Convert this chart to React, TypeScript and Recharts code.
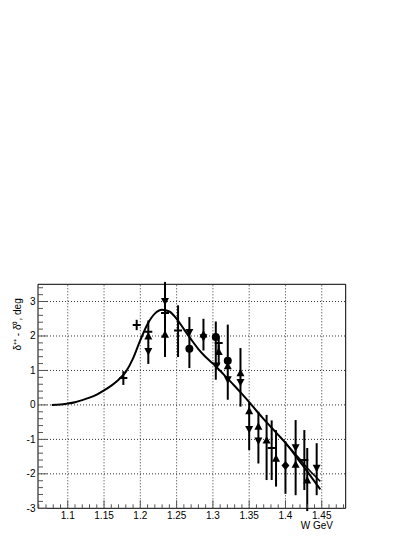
import React from "react";
import {
  ComposedChart,
  Line,
  Scatter,
  XAxis,
  YAxis,
  ErrorBar,
  ReferenceLine,
  ReferenceArea,
} from "recharts";

// ---------- data ----------
const xMajorTicks = [1.1, 1.15, 1.2, 1.25, 1.3, 1.35, 1.4, 1.45];
const xMajorLabels = ["1.1", "1.15", "1.2", "1.25", "1.3", "1.35", "1.4", "1.45"];
const yMajorTicks = [-3, -2, -1, 0, 1, 2, 3];
const yMajorLabels = ["-3", "-2", "-1", "0", "1", "2", "3"];

const curveW = [
  1.078, 1.09, 1.1, 1.11, 1.12, 1.13, 1.14, 1.15, 1.16, 1.17, 1.18, 1.19, 1.2, 1.21, 1.22,
  1.23, 1.24, 1.25, 1.26, 1.27, 1.28, 1.29, 1.3, 1.31, 1.32, 1.33, 1.34, 1.35, 1.36, 1.37,
  1.38, 1.39, 1.4, 1.41, 1.42, 1.43, 1.44, 1.448,
];
const curveMain = [
  0.0, 0.01, 0.04, 0.08, 0.14, 0.21, 0.3, 0.42, 0.56, 0.73, 0.96, 1.35, 1.88, 2.35, 2.65,
  2.76, 2.71, 2.5, 2.2, 1.9, 1.62, 1.39, 1.2, 0.99, 0.77, 0.55, 0.32, 0.08, -0.17, -0.41,
  -0.64, -0.87, -1.1, -1.37, -1.65, -1.93, -2.22, -2.45,
];
const curveW2 = [1.4, 1.41, 1.42, 1.43, 1.44, 1.448];
const curveUpper = [-1.1, -1.34, -1.58, -1.83, -2.05, -2.22];

// points: [W, value, error down, error up]
const crossPoints = [
  [1.1766, 0.78, 0.2, 0.2],
  [1.195, 2.32, 0.15, 0.15],
  [1.211, 2.12, 0.93, 0.33],
  [1.234, 2.67, 1.28, 0.9],
  [1.252, 2.16, 0.77, 0.73],
  [1.308, 1.8, 0.3, 0.2],
  [1.381, -1.25, 0.93, 0.8],
  [1.426, -1.6, 0.87, 0.87],
];
const upTrianglePoints = [
  [1.211, 2.0, 0, 0],
  [1.234, 2.05, 0, 0],
  [1.287, 2.06, 0.48, 0.44],
  [1.308, 1.55, 0.4, 0.2],
  [1.3205, 1.14, 0, 0],
  [1.338, 0.93, 0.98, 0.72],
  [1.35, -0.17, 0, 0],
  [1.3627, -0.62, 0, 0],
  [1.374, -1.02, 1.16, 0.73],
  [1.387, -1.55, 0.82, 0.82],
  [1.414, -1.72, 0, 0],
  [1.43, -2.18, 0.9, 0.93],
];
const downTrianglePoints = [
  [1.211, 1.55, 0, 0],
  [1.234, 3.0, 0, 0],
  [1.2676, 2.1, 0, 0],
  [1.287, 1.95, 0, 0],
  [1.305, 1.13, 0, 0],
  [1.3205, 0.73, 0, 0],
  [1.338, 0.65, 0, 0],
  [1.35, -0.71, 0.6, 0.78],
  [1.3627, -1.05, 0.65, 0.85],
  [1.414, -1.24, 1.38, 0.8],
  [1.443, -1.84, 0.78, 0.73],
];
const circlePoints = [
  [1.2676, 1.63, 0.56, 0.92],
  [1.304, 1.97, 1.24, 0.45],
  [1.3205, 1.28, 1.13, 1.05],
];
const diamondPoints = [[1.4, -1.76, 0.82, 0.7]];

const yTitle = "\u03b4\u207a\u207a - \u03b4\u2070, deg";
const xTitle = "W GeV";

// ---------- layout ----------
const W = 415;
const H = 537;
const X_MIN = 1.059;
const X_MAX = 1.483;
const Y_MIN = -3;
const Y_MAX = 3.5;
const PLOT_LEFT = 38;
const PLOT_RIGHT = 345.7;
const PLOT_TOP = 284.3;
const PLOT_BOTTOM = 508.3;
const FONT = "'Liberation Sans', Arial, sans-serif";

const toRows = (pts: number[][]) =>
  pts.map(([w, v, lo, hi]) => ({ w, v, err: [lo, hi] }));

const curveData = curveW.map((w, i) => ({ w, v: curveMain[i] }));
const curveData2 = curveW2.map((w, i) => ({ w, v: curveUpper[i] }));

const xTicks: number[] = [];
for (let i = 0; i <= 42; i++) xTicks.push(Math.round((1.06 + i * 0.01) * 100) / 100);
const yTicks: number[] = [];
for (let i = 0; i <= 32; i++) yTicks.push(Math.round((-3 + i * 0.2) * 10) / 10);

const near = (a: number, b: number) => Math.abs(a - b) < 1e-6;

const XTick = (props: any) => {
  const { x, payload } = props;
  const v = payload.value;
  const idx = xMajorTicks.findIndex((m) => near(m, v));
  const major = idx >= 0;
  return (
    <g>
      <line x1={x} x2={x} y1={PLOT_BOTTOM} y2={PLOT_BOTTOM - (major ? 8 : 4)} stroke="#555" strokeWidth={1} />
      {major && (
        <text x={x} y={PLOT_BOTTOM + 10.5} textAnchor="middle" fontSize={10} fontFamily={FONT} fill="#000">
          {xMajorLabels[idx]}
        </text>
      )}
    </g>
  );
};

const YTick = (props: any) => {
  const { y, payload } = props;
  const v = payload.value;
  const idx = yMajorTicks.findIndex((m) => near(m, v));
  const major = idx >= 0;
  return (
    <g>
      <line x1={PLOT_LEFT} x2={PLOT_LEFT + (major ? 9 : 5)} y1={y} y2={y} stroke="#555" strokeWidth={1} />
      {major && (
        <text x={PLOT_LEFT - 2.5} y={y + 3.5} textAnchor="end" fontSize={10} fontFamily={FONT} fill="#000">
          {yMajorLabels[idx]}
        </text>
      )}
    </g>
  );
};

const UpTri = (p: any) => {
  const { cx, cy } = p;
  if (cx == null || cy == null) return <g />;
  return <path d={`M${cx - 4},${cy + 3.5} L${cx + 4},${cy + 3.5} L${cx},${cy - 4} Z`} fill="#000" />;
};
const DownTri = (p: any) => {
  const { cx, cy } = p;
  if (cx == null || cy == null) return <g />;
  return <path d={`M${cx - 4},${cy - 3.5} L${cx + 4},${cy - 3.5} L${cx},${cy + 4} Z`} fill="#000" />;
};
const Circ = (p: any) => {
  const { cx, cy } = p;
  if (cx == null || cy == null) return <g />;
  return <circle cx={cx} cy={cy} r={4} fill="#000" />;
};
const Diam = (p: any) => {
  const { cx, cy } = p;
  if (cx == null || cy == null) return <g />;
  return <path d={`M${cx},${cy - 4.5} L${cx + 4},${cy} L${cx},${cy + 4.5} L${cx - 4},${cy} Z`} fill="#000" />;
};
const CrossMark = (p: any) => {
  const { cx, cy } = p;
  if (cx == null || cy == null) return <g />;
  return <line x1={cx - 4} x2={cx + 4} y1={cy} y2={cy} stroke="#000" strokeWidth={2} />;
};

const YTitle = () => (
  <text
    x={0}
    y={0}
    transform={`translate(21, ${PLOT_TOP + 14}) rotate(-90)`}
    textAnchor="end"
    fontSize={10}
    fontFamily={FONT}
    fill="#000"
  >
    {yTitle}
  </text>
);
const XTitle = () => (
  <text x={333} y={528.5} textAnchor="end" fontSize={10} fontFamily={FONT} fill="#000">
    {xTitle}
  </text>
);

export default function App() {
  const series: [number[][], any][] = [
    [crossPoints, CrossMark],
    [upTrianglePoints, UpTri],
    [downTrianglePoints, DownTri],
    [circlePoints, Circ],
    [diamondPoints, Diam],
  ];
  return (
    <div style={{ position: "absolute", left: 0, top: 0, width: W, height: H, background: "#fff" }}>
      <ComposedChart
        width={W}
        height={H}
        margin={{ top: PLOT_TOP, right: W - PLOT_RIGHT, left: 0, bottom: 0 }}
      >
        <XAxis
          type="number"
          dataKey="w"
          domain={[X_MIN, X_MAX]}
          allowDataOverflow
          ticks={xTicks}
          interval={0}
          tick={<XTick />}
          tickLine={false}
          axisLine={false}
          tickSize={0}
          tickMargin={0}
          height={H - PLOT_BOTTOM}
          label={<XTitle />}
        />
        <YAxis
          type="number"
          dataKey="v"
          domain={[Y_MIN, Y_MAX]}
          allowDataOverflow
          ticks={yTicks}
          interval={0}
          tick={<YTick />}
          tickLine={false}
          axisLine={false}
          tickSize={0}
          tickMargin={0}
          width={PLOT_LEFT}
          label={<YTitle />}
        />
        {xMajorTicks.map((t) => (
          <ReferenceLine key={"gx" + t} x={t} stroke="#333" strokeDasharray="1 2" strokeWidth={1} />
        ))}
        {yMajorTicks
          .filter((t) => t > Y_MIN)
          .map((t) => (
            <ReferenceLine key={"gy" + t} y={t} stroke="#333" strokeDasharray="1 2" strokeWidth={1} />
          ))}
        <ReferenceArea
          x1={X_MIN}
          x2={X_MAX}
          y1={Y_MIN}
          y2={Y_MAX}
          fill="none"
          fillOpacity={0}
          stroke="#000"
          strokeWidth={1}
        />
        <Line
          data={curveData}
          dataKey="v"
          type="monotone"
          stroke="#000"
          strokeWidth={2}
          dot={false}
          isAnimationActive={false}
        />
        <Line
          data={curveData2}
          dataKey="v"
          type="monotone"
          stroke="#000"
          strokeWidth={1.6}
          dot={false}
          isAnimationActive={false}
        />
        {series.map(([pts, shape], i) => (
          <Scatter
            key={"s" + i}
            data={toRows(pts)}
            dataKey="v"
            shape={shape}
            isAnimationActive={false}
          >
            <ErrorBar dataKey="err" direction="y" width={0} stroke="#000" strokeWidth={2} />
          </Scatter>
        ))}
      </ComposedChart>
    </div>
  );
}
